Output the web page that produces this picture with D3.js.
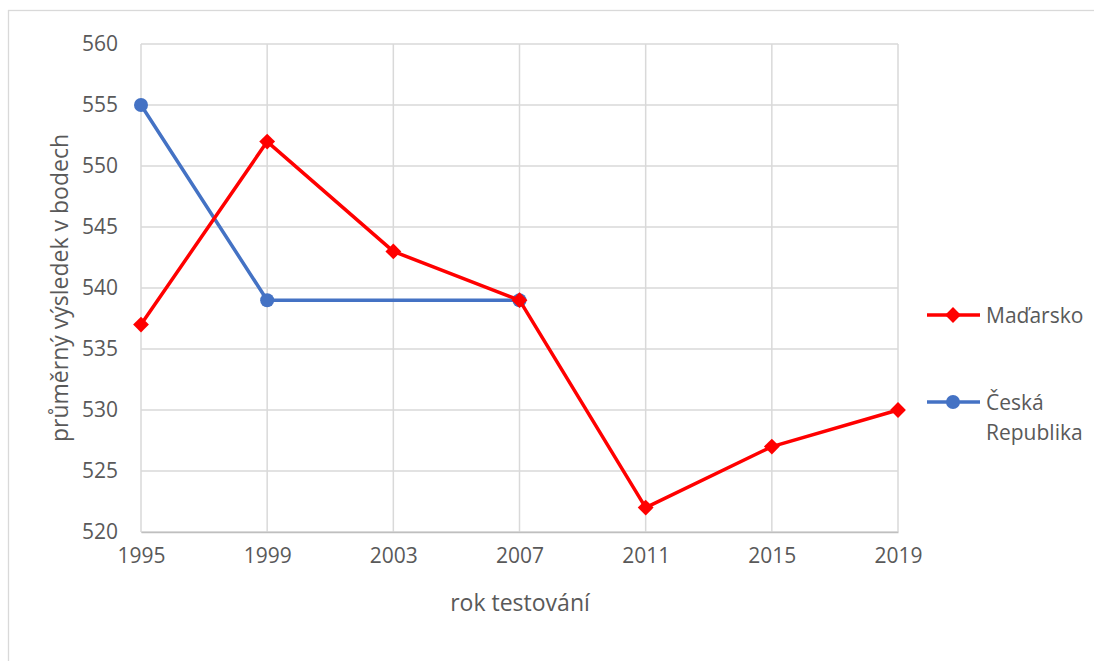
<!DOCTYPE html>
<html><head><meta charset="utf-8">
<script src="https://cdn.jsdelivr.net/npm/d3@7"></script>
<style>body{margin:0;background:#fff}svg{display:block}text{font-family:"Open Sans",sans-serif;fill:#595959}</style>
</head><body><svg id="c" width="1094" height="661"></svg>
<script>
const years = [1995, 1999, 2003, 2007, 2011, 2015, 2019];
const madarsko = [537, 552, 543, 539, 522, 527, 530];
const ceska = [555, 539, null, 539, null, null, null];
const yTicks = [520, 525, 530, 535, 540, 545, 550, 555, 560];
const seriesNames = ["Maďarsko", "Česká Republika"];
const xTitle = "rok testování";
const yTitle = "průměrný výsledek v bodech";

const svg = d3.select("#c");
svg.append("rect").attr("x",8.5).attr("y",10.5).attr("width",1100).attr("height",700)
  .attr("fill","none").attr("stroke","#d9d9d9").attr("stroke-width",1.3);

const x = d3.scalePoint().domain(years).range([141, 898]);
const y = d3.scaleLinear().domain([520, 560]).range([532, 44]);
const grid = "#d9d9d9";

svg.append("g").selectAll("line").data(yTicks).join("line")
  .attr("x1",141).attr("x2",898).attr("y1",d=>y(d)).attr("y2",d=>y(d))
  .attr("stroke",grid).attr("stroke-width",1.5);
svg.append("g").selectAll("line").data(years).join("line")
  .attr("x1",d=>x(d)).attr("x2",d=>x(d)).attr("y1",44).attr("y2",532)
  .attr("stroke",grid).attr("stroke-width",1.5);

const ya = svg.append("g").attr("transform","translate(141,0)")
  .call(d3.axisLeft(y).tickValues(yTicks).tickSize(0).tickPadding(23));
ya.select(".domain").remove();
ya.selectAll("text").attr("font-size",21).attr("font-family","Open Sans").attr("fill","#595959");
const xa = svg.append("g").attr("transform","translate(0,532)")
  .call(d3.axisBottom(x).tickSize(0).tickPadding(16).tickFormat(d3.format("d")));
xa.select(".domain").attr("stroke","#bfbfbf").attr("stroke-width",1.5);
xa.selectAll("text").attr("font-size",21).attr("font-family","Open Sans").attr("fill","#595959");

svg.append("text").attr("x",520).attr("y",611).attr("text-anchor","middle").attr("font-size",23).text(xTitle);
svg.append("text").attr("transform","translate(68,288) rotate(-90)").attr("text-anchor","middle").attr("font-size",23).text(yTitle);

const line = d3.line().x(d=>x(d.year)).y(d=>y(d.v));
const mk = (arr)=>years.map((yr,i)=>({year:yr,v:arr[i]})).filter(d=>d.v!=null);
const hu = mk(madarsko), cz = mk(ceska);

svg.append("path").datum(cz).attr("d",line).attr("fill","none").attr("stroke","#4472c4").attr("stroke-width",3.5).attr("stroke-linejoin","round");
svg.append("g").selectAll("circle").data(cz).join("circle")
  .attr("cx",d=>x(d.year)).attr("cy",d=>y(d.v)).attr("r",7).attr("fill","#4472c4");

svg.append("path").datum(hu).attr("d",line).attr("fill","none").attr("stroke","#ff0000").attr("stroke-width",3.5).attr("stroke-linejoin","round");
svg.append("g").selectAll("path").data(hu).join("path")
  .attr("d", d3.symbol().type(d3.symbolSquare).size(125))
  .attr("transform",d=>`translate(${x(d.year)},${y(d.v)}) rotate(45)`).attr("fill","#ff0000");

const lg = svg.append("g");
lg.append("line").attr("x1",927).attr("x2",980).attr("y1",315).attr("y2",315).attr("stroke","#ff0000").attr("stroke-width",3.5);
lg.append("path").attr("d", d3.symbol().type(d3.symbolSquare).size(125)).attr("transform","translate(953,315) rotate(45)").attr("fill","#ff0000");
lg.append("text").attr("x",986).attr("y",323).attr("font-size",21).text(seriesNames[0]);
lg.append("line").attr("x1",927).attr("x2",980).attr("y1",402).attr("y2",402).attr("stroke","#4472c4").attr("stroke-width",3.5);
lg.append("circle").attr("cx",953).attr("cy",402).attr("r",7).attr("fill","#4472c4");
const parts = seriesNames[1].split(" ");
lg.append("text").attr("x",986).attr("y",410).attr("font-size",21).text(parts[0]);
lg.append("text").attr("x",986).attr("y",440).attr("font-size",21).text(parts[1]);
</script></body></html>
